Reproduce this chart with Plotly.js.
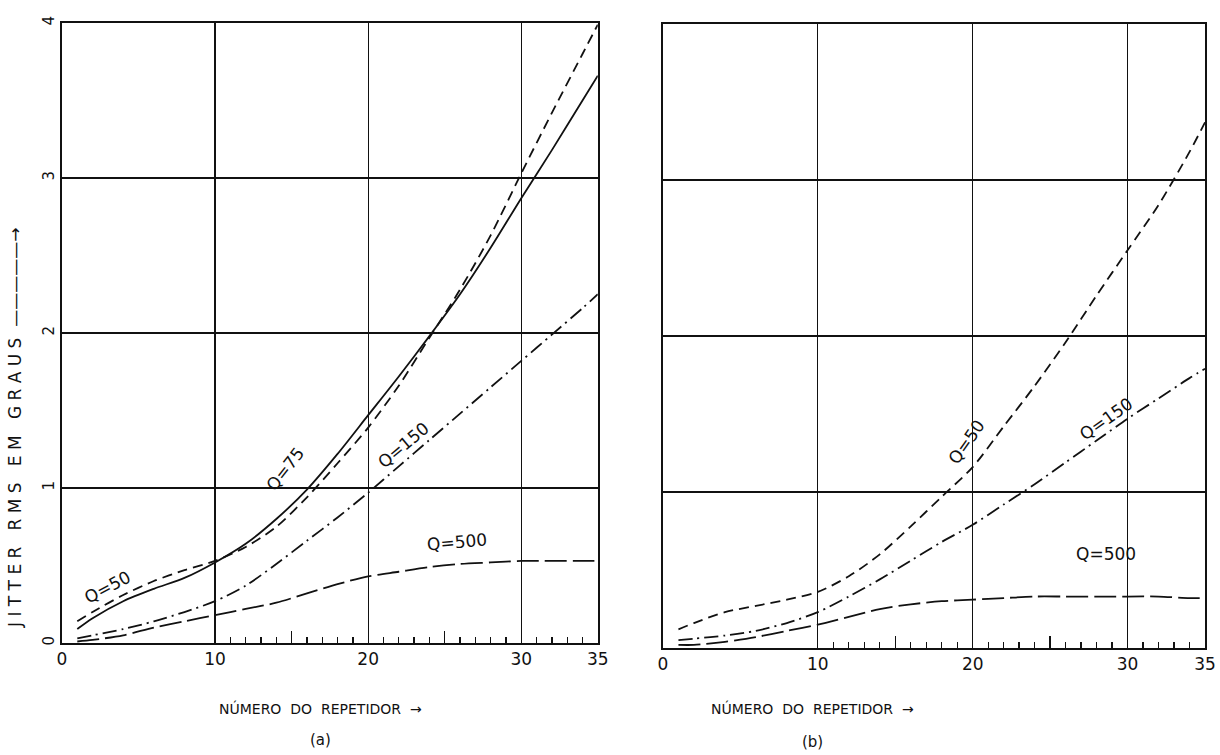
<!DOCTYPE html>
<html>
<head>
<meta charset="utf-8">
<script src="https://cdn.plot.ly/plotly-3.0.1.min.js"></script>
<style>
html,body{margin:0;padding:0;background:#fff;}
#chart{width:1220px;height:755px;}
</style>
</head>
<body>
<div id="chart"></div>
<script>
// Número do repetidor (x)
const repeater = [1, 2, 4, 6, 8, 10, 12, 14, 16, 18, 20, 22, 24, 26, 28, 30, 32, 34, 35];

// Panel (a): jitter RMS em graus
const aQ50  = [0.14, 0.20, 0.31, 0.40, 0.47, 0.53, 0.62, 0.75, 0.94, 1.16, 1.39, 1.66, 1.97, 2.28, 2.63, 3.03, 3.42, 3.80, 3.99];
const aQ75  = [0.09, 0.16, 0.27, 0.35, 0.42, 0.52, 0.64, 0.80, 0.99, 1.22, 1.47, 1.72, 1.98, 2.25, 2.55, 2.87, 3.18, 3.50, 3.66];
const aQ150 = [0.03, 0.05, 0.09, 0.14, 0.20, 0.27, 0.37, 0.51, 0.66, 0.81, 0.97, 1.14, 1.31, 1.48, 1.65, 1.82, 1.99, 2.16, 2.25];
const aQ500 = [0.01, 0.02, 0.05, 0.10, 0.14, 0.18, 0.22, 0.26, 0.32, 0.38, 0.43, 0.46, 0.49, 0.51, 0.52, 0.53, 0.53, 0.53, 0.53];

// Panel (b)
const bQ50  = [0.12, 0.16, 0.23, 0.27, 0.31, 0.36, 0.46, 0.60, 0.78, 0.97, 1.16, 1.42, 1.68, 1.96, 2.26, 2.55, 2.84, 3.18, 3.37];
const bQ150 = [0.05, 0.06, 0.08, 0.11, 0.16, 0.23, 0.33, 0.44, 0.56, 0.68, 0.79, 0.92, 1.05, 1.19, 1.33, 1.47, 1.60, 1.73, 1.79];
const bQ500 = [0.02, 0.02, 0.04, 0.07, 0.11, 0.15, 0.20, 0.25, 0.28, 0.30, 0.31, 0.32, 0.33, 0.33, 0.33, 0.33, 0.33, 0.32, 0.32];

// Tick labels
const xTickVals = [0, 10, 20, 30, 35];
const xTickText = ['0', '10', '20', '30', '35'];
const yTickVals = [0, 1, 2, 3, 4];
const yTickText = ['0', '1', '2', '3', '4'];
const minorTickVals = [11,12,13,14,16,17,18,19,21,22,23,24,26,27,28,29,31,32,33,34];
const longTickVals = [15, 25];

const ink = '#111';
const FONT = 'DejaVu Sans, sans-serif';
const NB = '\u00A0';

function spaced(word) { return word.split('').join(NB); }

function line(x, y, xa, ya, dash, name) {
  return {x: x, y: y, xaxis: xa, yaxis: ya, mode: 'lines', name: name,
          line: {color: ink, width: 1.8, dash: dash, shape: 'spline', smoothing: 0.8},
          hoverinfo: 'x+y+name'};
}

const DASH = '10px,6px';
const DASHDOT = '14px,5px,2px,5px';
const LONGDASH = '22px,6px';

const traces = [
  line(repeater, aQ50,  'x', 'y', DASH, 'Q=50'),
  line(repeater, aQ75,  'x', 'y', 'solid', 'Q=75'),
  line(repeater, aQ150, 'x', 'y', DASHDOT, 'Q=150'),
  line(repeater, aQ500, 'x', 'y', LONGDASH, 'Q=500'),
  line(repeater, bQ50,  'x2', 'y2', DASH, 'Q=50'),
  line(repeater, bQ150, 'x2', 'y2', DASHDOT, 'Q=150'),
  line(repeater, bQ500, 'x2', 'y2', LONGDASH, 'Q=500'),
  {x: [0, 35], y: [0, 0], xaxis: 'x3', yaxis: 'y', mode: 'lines', line: {width: 0}, hoverinfo: 'skip', showlegend: false},
  {x: [0, 35], y: [0, 0], xaxis: 'x4', yaxis: 'y2', mode: 'lines', line: {width: 0}, hoverinfo: 'skip', showlegend: false}
];

function xaxis(domain, anchor) {
  return {
    domain: domain, anchor: anchor, range: [0, 35],
    tickmode: 'array', tickvals: xTickVals, ticktext: xTickText,
    ticks: '', showgrid: true, gridcolor: ink, gridwidth: 1.2,
    showline: true, linecolor: ink, linewidth: 2, mirror: true,
    zeroline: false, tickfont: {family: FONT, size: 17, color: ink},
    minor: {tickmode: 'array', tickvals: minorTickVals, ticks: 'inside', ticklen: 6, tickwidth: 1.3, tickcolor: ink, showgrid: false}
  };
}
function longTickAxis(domain, anchor, over) {
  return {
    domain: domain, anchor: anchor, overlaying: over, range: [0, 35],
    tickmode: 'array', tickvals: longTickVals, ticktext: ['', ''],
    ticks: 'inside', ticklen: 12, tickwidth: 1.3, tickcolor: ink,
    showgrid: false, showline: false, zeroline: false, showticklabels: false
  };
}
function yaxis(domain, anchor, labels) {
  return {
    domain: domain, anchor: anchor, range: [0, 4],
    tickmode: 'array', tickvals: yTickVals, ticktext: yTickText,
    ticks: '', showgrid: true, gridcolor: ink, gridwidth: 1.2,
    showline: true, linecolor: ink, linewidth: 2, mirror: true,
    zeroline: false, showticklabels: labels, tickangle: -90,
    tickfont: {family: FONT, size: 15, color: ink}
  };
}

const annFont = {family: FONT, size: 17, color: ink};
function lab(text, x, y, xr, yr, angle) {
  return {text: text, x: x, y: y, xref: xr, yref: yr, showarrow: false, textangle: angle,
          xanchor: 'center', yanchor: 'middle', font: annFont};
}
function paperText(text, px, py, size, angle) {
  return {text: text, x: px / 1220, y: 1 - py / 755, xref: 'paper', yref: 'paper',
          xanchor: 'center', yanchor: 'middle',
          showarrow: false, textangle: angle || 0, font: {family: FONT, size: size, color: ink}};
}

const yTitle = [spaced('JITTER'), spaced('RMS'), spaced('EM'), spaced('GRAUS')].join(NB + NB + NB) + NB + NB + '—————→';
const xTitle = ['NÚMERO', 'DO', 'REPETIDOR'].join(NB + NB) + NB + NB + '→';

const layout = {
  width: 1220, height: 755,
  margin: {l: 0, r: 0, t: 0, b: 0},
  paper_bgcolor: '#fff', plot_bgcolor: '#fff',
  showlegend: false,
  xaxis: xaxis([0.0508, 0.490], 'y'),
  yaxis: yaxis([0.1483, 0.9695], 'x', true),
  xaxis2: xaxis([0.5434, 0.9877], 'y2'),
  yaxis2: yaxis([0.1417, 0.9682], 'x2', false),
  xaxis3: longTickAxis([0.0508, 0.490], 'y', 'x'),
  xaxis4: longTickAxis([0.5434, 0.9877], 'y2', 'x2'),
  annotations: [
    lab('Q=50', 3.0, 0.36, 'x', 'y', -28),
    lab('Q=75', 14.6, 1.12, 'x', 'y', -52),
    lab('Q=150', 22.3, 1.28, 'x', 'y', -40),
    lab('Q=500', 25.8, 0.65, 'x', 'y', -5),
    lab('Q=50', 19.6, 1.32, 'x2', 'y2', -55),
    lab('Q=150', 28.6, 1.47, 'x2', 'y2', -35),
    lab('Q=500', 28.6, 0.60, 'x2', 'y2', 0),
    paperText(yTitle, 15, 428, 17, -90),
    paperText(xTitle, 320, 708, 14),
    paperText('(a)', 320, 740, 15),
    paperText(xTitle, 812, 708, 14),
    paperText('(b)', 812, 742, 15)
  ]
};

Plotly.newPlot('chart', traces, layout, {displayModeBar: false, staticPlot: true});
</script>
</body>
</html>
